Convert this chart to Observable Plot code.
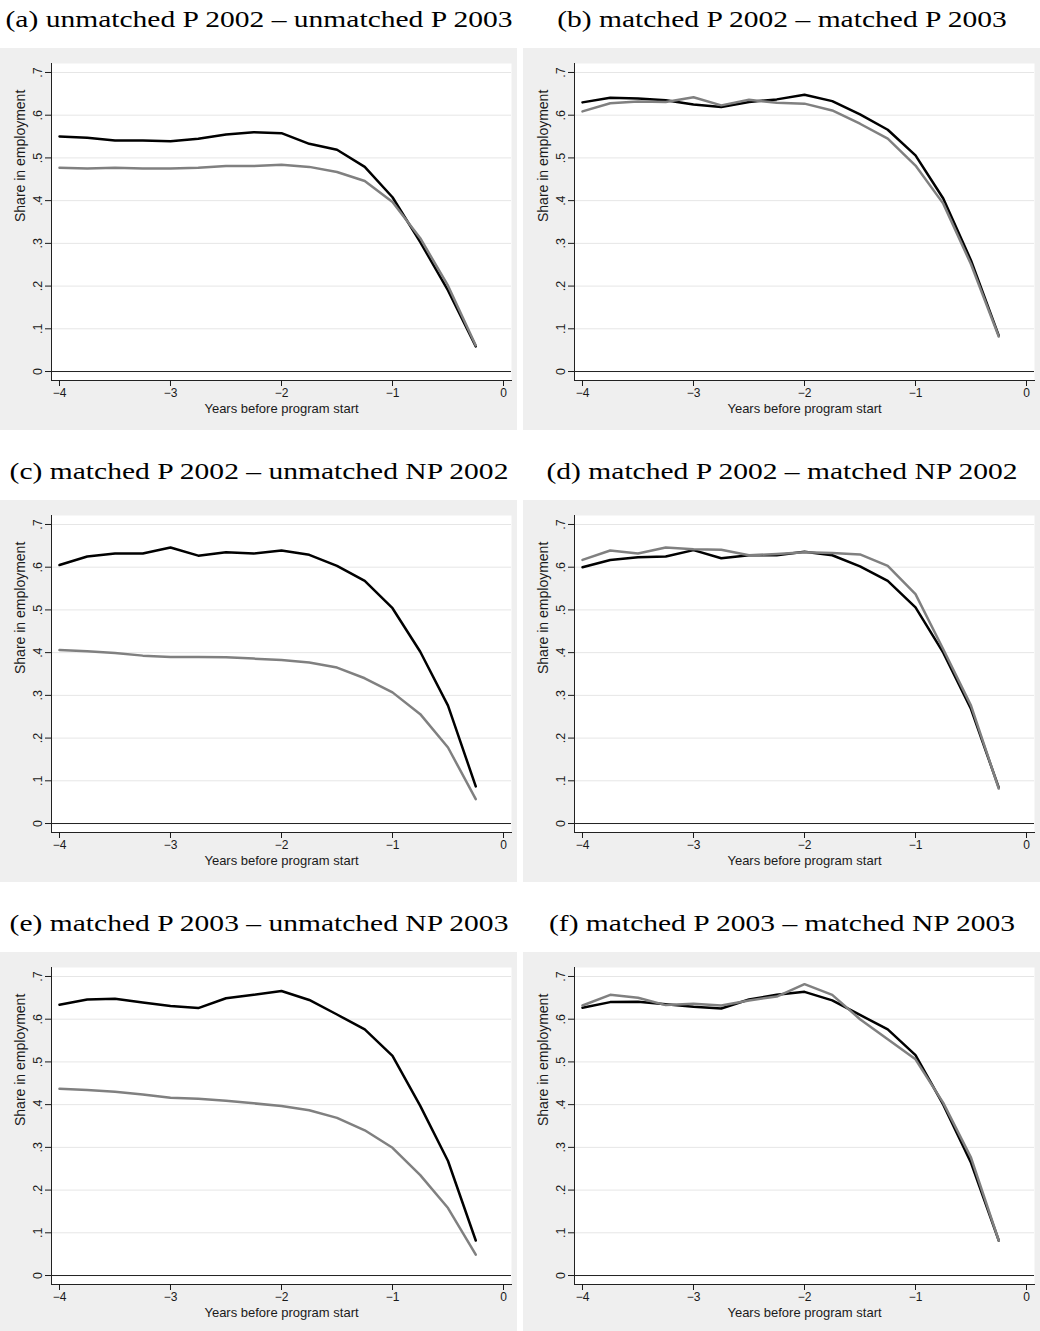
<!DOCTYPE html>
<html><head><meta charset="utf-8">
<script src="https://cdn.jsdelivr.net/npm/d3@7"></script>
<script src="https://cdn.jsdelivr.net/npm/@observablehq/plot@0.6"></script>
<style>
html,body{margin:0;padding:0;background:#fff;}
#grid{width:1040px;}
.row{display:flex;gap:6px;height:452px;}
.panel{width:517px;}
.title{height:48px;position:relative;font-family:"Liberation Serif","Times New Roman",serif;font-size:23px;line-height:26px;color:#000;}
.title span{position:absolute;left:50%;top:7px;white-space:nowrap;transform-origin:center;transform:translateX(-50%);}
.panel svg{display:block;}
</style></head><body><div id="grid"></div>
<script>
// Quarters before program start
const quarters = [-4, -3.75, -3.5, -3.25, -3, -2.75, -2.5, -2.25, -2, -1.75, -1.5, -1.25, -1, -0.75, -0.5, -0.25];

const titles = [
  "(a) unmatched P 2002 \u2013 unmatched P 2003",
  "(b) matched P 2002 \u2013 matched P 2003",
  "(c) matched P 2002 \u2013 unmatched NP 2002",
  "(d) matched P 2002 \u2013 matched NP 2002",
  "(e) matched P 2003 \u2013 unmatched NP 2003",
  "(f) matched P 2003 \u2013 matched NP 2003"
];

const aBlack = [.550,.547,.541,.541,.539,.545,.555,.560,.558,.533,.519,.479,.408,.303,.190,.059];
const aGray  = [.477,.475,.477,.475,.475,.477,.481,.481,.484,.479,.467,.446,.397,.312,.201,.061];
const bBlack = [.630,.641,.639,.635,.625,.619,.631,.637,.648,.633,.602,.566,.506,.405,.260,.084];
const bGray  = [.609,.628,.632,.631,.642,.623,.636,.629,.627,.611,.580,.545,.482,.393,.251,.082];
const cBlack = [.605,.625,.632,.632,.646,.627,.635,.632,.639,.629,.603,.568,.504,.402,.276,.087];
const cGray  = [.406,.403,.399,.393,.390,.390,.389,.386,.383,.377,.365,.340,.307,.256,.178,.057];
const dBlack = [.600,.617,.623,.625,.640,.621,.628,.628,.636,.628,.602,.568,.506,.400,.268,.084];
const dGray  = [.617,.639,.632,.646,.642,.641,.628,.631,.635,.633,.630,.603,.537,.408,.276,.082];
const eBlack = [.634,.646,.648,.639,.631,.626,.649,.657,.666,.645,.611,.576,.514,.397,.268,.082];
const eGray  = [.437,.434,.430,.424,.416,.414,.409,.403,.397,.387,.369,.340,.299,.235,.158,.049];
const fBlack = [.627,.640,.641,.635,.629,.625,.646,.657,.664,.644,.610,.576,.516,.400,.264,.082];
const fGray  = [.632,.657,.650,.633,.636,.632,.644,.653,.682,.657,.600,.553,.506,.404,.276,.082];

const xTicks = [-4, -3, -2, -1, 0];
const xTickLabels = ["\u22124", "\u22123", "\u22122", "\u22121", "0"];
const yTicks = [0, 0.1, 0.2, 0.3, 0.4, 0.5, 0.6, 0.7];
const yTickLabels = ["0", ".1", ".2", ".3", ".4", ".5", ".6", ".7"];
const gridTicks = [0.1, 0.2, 0.3, 0.4, 0.5, 0.6, 0.7];
const xLabel = "Years before program start";
const yLabel = "Share in employment";

const panels = [
  [aBlack, aGray], [bBlack, bGray],
  [cBlack, cGray], [dBlack, dGray],
  [eBlack, eGray], [fBlack, fGray]
];

function makeChart(blackVals, grayVals) {
  const black = quarters.map((t, i) => ({t, v: blackVals[i]}));
  const gray = quarters.map((t, i) => ({t, v: grayVals[i]}));
  return Plot.plot({
    width: 517, height: 382,
    marginLeft: 51, marginRight: 6, marginTop: 15, marginBottom: 50,
    style: {background: "#efefef", fontFamily: "'Liberation Sans', Arial, sans-serif", fontSize: "12px", color: "#1a1a1a", overflow: "visible"},
    x: {domain: [-4.072, 0.072]},
    y: {domain: [-0.021, 0.721]},
    marks: [
      Plot.frame({fill: "white", stroke: "none"}),
      Plot.gridY(gridTicks, {stroke: "#e6e6e6", strokeOpacity: 1}),
      Plot.ruleY([0], {stroke: "#222", strokeWidth: 1}),
      Plot.frame({anchor: "left", stroke: "#222"}),
      Plot.frame({anchor: "bottom", stroke: "#222"}),
      Plot.axisX({ticks: xTicks, tickFormat: d => xTickLabels[xTicks.indexOf(d)], tickSize: 6, tickPadding: 2, label: null}),
      Plot.axisY({ticks: yTicks, tickFormat: d => yTickLabels[yTicks.indexOf(d)], tickSize: 6, tickPadding: 4, tickRotate: -90, label: null, fontSize: 12.5}),
      Plot.text([xLabel], {text: d => d, frameAnchor: "bottom", dy: 23, lineAnchor: "top", fontSize: 13}),
      Plot.text([yLabel], {text: d => d, frameAnchor: "left", dx: -31, rotate: -90, fontSize: 14}),
      Plot.line(black, {x: "t", y: "v", stroke: "#000", strokeWidth: 2.5}),
      Plot.line(gray, {x: "t", y: "v", stroke: "#808080", strokeWidth: 2.5})
    ]
  });
}

const grid = document.getElementById("grid");
for (let r = 0; r < 3; r++) {
  const row = document.createElement("div");
  row.className = "row";
  for (let c = 0; c < 2; c++) {
    const i = r * 2 + c;
    const panel = document.createElement("div");
    panel.className = "panel";
    const t = document.createElement("div");
    t.className = "title";
    const s = document.createElement("span");
    s.textContent = titles[i];
    t.appendChild(s);
    panel.appendChild(t);
    panel.appendChild(makeChart(panels[i][0], panels[i][1]));
    row.appendChild(panel);
  }
  grid.appendChild(row);
}
const spans = document.querySelectorAll(".title span");
const w0 = spans[0].getBoundingClientRect().width;
const k = 507 / w0;
spans.forEach(s => { s.style.transform = `translateX(-50%) scaleX(${k})`; });
</script></body></html>
